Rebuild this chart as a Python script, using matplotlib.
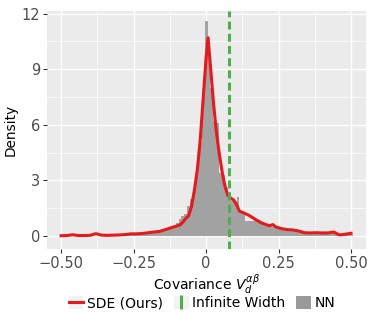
import numpy as np
import matplotlib.pyplot as plt
from matplotlib.lines import Line2D
from matplotlib.patches import Patch
from matplotlib.legend_handler import HandlerTuple

# SDE density curve
sde_x = [-0.50, -0.48, -0.46, -0.44, -0.42, -0.40, -0.38, -0.36, -0.34, -0.32,
         -0.30, -0.28, -0.26, -0.24, -0.22, -0.20, -0.18, -0.16, -0.14, -0.12,
         -0.10, -0.09, -0.08, -0.07, -0.06, -0.05, -0.04, -0.03, -0.02, -0.01,
         0.00, 0.007, 0.015, 0.025, 0.035, 0.045, 0.055, 0.065, 0.075, 0.085,
         0.095, 0.105, 0.115, 0.13, 0.15, 0.17, 0.19, 0.21, 0.22, 0.23,
         0.24, 0.26, 0.28, 0.30, 0.32, 0.34, 0.36, 0.38, 0.40, 0.42,
         0.44, 0.46, 0.48, 0.50]
sde_y = [0.02, 0.03, 0.07, 0.03, 0.03, 0.04, 0.13, 0.05, 0.04, 0.05,
         0.06, 0.08, 0.12, 0.12, 0.14, 0.18, 0.22, 0.25, 0.35, 0.45,
         0.55, 0.60, 0.75, 0.95, 1.10, 1.60, 2.50, 3.60, 5.20, 7.40,
         9.60, 10.70, 9.20, 7.30, 5.70, 4.50, 3.50, 2.70, 2.20, 2.05,
         1.95, 1.70, 1.35, 1.25, 1.10, 0.90, 0.72, 0.60, 0.56, 0.62,
         0.50, 0.40, 0.35, 0.33, 0.27, 0.18, 0.17, 0.18, 0.17, 0.17,
         0.22, 0.06, 0.10, 0.15]

# NN histogram, bins of width 0.01
nn_centers = np.round(np.arange(-0.30, 0.501, 0.01), 2)
nn_heights = [0.05, 0.05, 0.06, 0.05, 0.08, 0.10, 0.08, 0.10, 0.12, 0.12,
              0.20, 0.20, 0.25, 0.30, 0.35, 0.40, 0.35, 0.45, 0.50, 0.55,
              0.70, 0.90, 1.10, 1.20, 1.60, 2.00, 2.60, 3.60, 5.00, 7.50,
              11.6, 10.3, 8.00, 6.20, 6.10, 3.40, 3.30, 2.60, 2.40, 1.90,
              1.90, 2.10, 1.30, 1.20, 0.80, 0.80, 0.80, 0.90, 0.75, 0.70,
              0.65, 0.60, 0.55, 0.50, 0.45, 0.40, 0.35, 0.35, 0.30, 0.30,
              0.30, 0.25, 0.20, 0.20, 0.20, 0.20, 0.15, 0.15, 0.20, 0.20,
              0.20, 0.20, 0.15, 0.15, 0.20, 0.10, 0.10, 0.10, 0.10, 0.08,
              0.08]

inf_width = 0.078

red = '#E41A1C'
green = '#4DAF4A'
grey = '#9A9A9A'

fig = plt.figure(figsize=(3.74, 3.29), dpi=100)
ax = fig.add_axes([0.126, 0.243, 0.853, 0.724])
ax.set_facecolor('#EBEBEB')

ax.bar(nn_centers, nn_heights, width=0.01, color=grey, alpha=0.9,
       linewidth=0, zorder=2)
ax.plot(sde_x, sde_y, color=red, lw=2.2, zorder=3)
ax.axvline(inf_width, color=green, lw=2.2, ls=(0, (2.6, 1.4)), zorder=4)

ax.set_xlim(-0.548, 0.552)
ax.set_ylim(-0.7, 12.15)
ax.set_xticks([-0.5, -0.25, 0, 0.25, 0.5])
ax.set_xticklabels(['\u22120.50', '\u22120.25', '0', '0.25', '0.50'])
ax.set_yticks([0, 3, 6, 9, 12])
ax.set_xticks([-0.375, -0.125, 0.125, 0.375], minor=True)
ax.set_yticks([1.5, 4.5, 7.5, 10.5], minor=True)
ax.grid(which='major', color='white', lw=1.0, zorder=0)
ax.grid(which='minor', color='white', lw=0.5, zorder=0)
ax.set_axisbelow(True)
for s in ax.spines.values():
    s.set_visible(False)
ax.tick_params(which='major', length=3, color='#333333', labelsize=10.5,
               labelcolor='#4D4D4D', pad=2)
ax.tick_params(which='minor', length=0)

ax.set_xlabel(r'Covariance $V_d^{\alpha\beta}$', fontsize=10, labelpad=1)
ax.set_ylabel('Density', fontsize=9.8, labelpad=3)

# legend keys get the light grey ggplot key background
key_bg = '#F2F2F2'
handles = [(Patch(facecolor=key_bg, edgecolor='none'),
            Line2D([], [], color=red, lw=2.2)),
           (Patch(facecolor=key_bg, edgecolor='none'),
            Line2D([], [], color=green, marker='|', ls='none',
                   markersize=10, markeredgewidth=2.2)),
           (Patch(facecolor=grey, edgecolor='none'),)]
fig.legend(handles, ['SDE (Ours)', 'Infinite Width', 'NN'], loc='center',
           bbox_to_anchor=(0.54, 0.078), ncol=3, frameon=False, fontsize=10,
           handlelength=1.05, handleheight=1.05, handletextpad=0.25,
           columnspacing=0.8,
           handler_map={tuple: HandlerTuple(ndivide=1, pad=0)})

fig.savefig('out.png', dpi=100)
